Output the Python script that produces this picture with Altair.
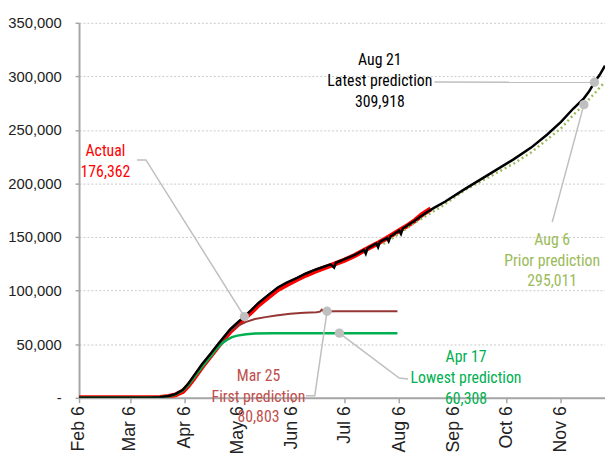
import altair as alt
import pandas as pd

# ---------------- data (values in thousands of deaths) ----------------
actual_dates = ["02-06", "03-06", "03-17", "03-23", "03-28", "04-01", "04-05", "04-08", "04-11", "04-16",
                "04-21", "04-26", "05-02", "05-06", "05-10", "05-14", "05-18", "05-24", "05-29", "06-03",
                "06-09", "06-14", "06-20", "06-28", "07-06", "07-12", "07-17", "07-24", "07-30", "08-06",
                "08-11", "08-15", "08-19", "08-24"]
actual_vals = [0, 0, 0.1, 0.4, 1.2, 2.8, 6, 11, 17.5, 29,
               39.5, 50, 62, 68, 74, 80, 86.5, 94.5, 101, 105.5,
               110.5, 114.5, 118.5, 123.5, 128.5, 133, 137.5, 143.5, 149, 156,
               161, 165.5, 171, 176.362]

latest_dates = ["02-06", "03-06", "03-17", "03-23", "03-28", "04-01", "04-05", "04-08", "04-11", "04-16",
                "04-21", "04-26", "05-02", "05-06", "05-10", "05-14", "05-18", "05-24", "05-29", "06-03",
                "06-09", "06-14", "06-20", "06-28", "06-30", "07-01", "07-06", "07-12", "07-17", "07-18",
                "07-19", "07-24", "07-25", "07-26", "07-30", "07-31", "08-01", "08-06", "08-07", "08-08",
                "08-15", "08-21", "08-26", "09-01", "09-12", "09-26", "10-10", "10-20", "10-29", "11-06",
                "11-13", "11-19", "11-22", "11-25", "11-28", "12-01"]
latest_vals = [0, 0, 0.1, 0.6, 1.7, 3.6, 7.5, 13, 20, 31.5,
               41.5, 52, 64, 70, 75.8, 82, 88.5, 96.5, 103, 107.5,
               112, 116, 120, 124.5, 121.5, 126, 129.5, 133.5, 138, 134.5,
               139.5, 144, 140.5, 145.5, 149, 146, 150.5, 156, 153, 158,
               165.5, 172.5, 177.5, 183, 194.5, 208.5, 222.5, 233.5, 245.5, 257.5,
               270, 279.5, 286, 294.5, 301.5, 309.918]

prior_dates = ["07-28", "08-04", "08-15", "08-30", "09-12", "09-26", "10-10", "10-20", "10-29", "11-06",
               "11-13", "11-19", "11-25", "12-01"]
prior_vals = [143.5, 151, 163.5, 178.5, 193.5, 206, 218.5, 229, 241, 251.5,
              264, 273.6, 284, 295.011]

first_dates = ["02-06", "03-06", "03-17", "03-23", "03-28", "04-01", "04-05", "04-08", "04-11", "04-16",
               "04-21", "04-26", "04-29", "05-02", "05-06", "05-11", "05-16", "05-22", "05-28", "06-05",
               "06-13", "06-20", "06-22", "06-23", "06-24", "07-01", "07-15", "08-05"]
first_vals = [0, 0, 0.1, 0.5, 1.5, 3.3, 7, 12.5, 19.5, 31,
              41, 51, 57, 62.5, 67, 70.8, 73.5, 75.3, 76.8, 78.4,
              79.4, 79.9, 80.4, 82.3, 80.6, 80.75, 80.8, 80.803]

lowest_dates = ["02-06", "03-06", "03-17", "03-23", "03-28", "04-01", "04-05", "04-08", "04-11", "04-16",
                "04-21", "04-24", "04-27", "04-30", "05-03", "05-06", "05-11", "05-16", "05-26", "06-15",
                "08-05"]
lowest_vals = [0, 0, 0.1, 0.5, 1.4, 3.2, 6.8, 11.5, 18, 29,
               39, 45.5, 50.5, 54, 56.6, 58, 59.3, 59.9, 60.15, 60.28,
               60.308]

# annotations: label text, colour, first-line anchor, leader path, dot
ann_labels = ["Actual\n176,362",
              "Aug 21\nLatest prediction\n309,918",
              "Aug 6\nPrior prediction\n295,011",
              "Mar 25\nFirst prediction\n80,803",
              "Apr 17\nLowest prediction\n60,308"]
ann_colors = ["#ff0000", "#000000", "#9bbb59", "#c0504d", "#00b050"]
ann_text_dates = ["02-21", "07-26", "11-01", "05-18", "09-13"]
ann_text_vals = [230.3, 315, 147.4, 20.3, 37.8]
leader_paths = [
    [("03-10", 222), ("03-15", 222), ("05-10", 75.8)],
    [("08-26", 294.7), ("11-25", 294.5)],
    [("11-01", 164), ("11-19", 273.6)],
    [("06-14", 1.8), ("06-19", 1.8), ("06-26", 80.8)],
    [("08-11", 17.5), ("08-06", 18.4), ("07-03", 60.3)],
]

y_ticks = [0, 50000, 100000, 150000, 200000, 250000, 300000, 350000]
x_tick_days = ["02-06", "03-06", "04-06", "05-06", "06-06", "07-06", "08-06", "09-06", "10-06", "11-06"]


def to_date(md):
    return f"2020-{md}T00:00:00"


def series_df(dates, vals):
    return pd.DataFrame({"date": [to_date(d) for d in dates], "value": [v * 1000 for v in vals]})


def dt(md):
    m, d = md.split("-")
    return alt.DateTime(year=2020, month=int(m), date=int(d))


FONT = "Liberation Sans"
NARROW = "Roboto Condensed"
GRAY = "#a6a6a6"
LEAD = "#bfbfbf"

x_enc = alt.X(
    "date:T",
    scale=alt.Scale(domain=[dt("02-06"), dt("12-01")]),
    axis=alt.Axis(
        values=[dt(d) for d in x_tick_days],
        format="%b %-d",
        labelAngle=270,
        labelFontSize=18,
        labelFont=FONT,
        labelColor="#222222",
        labelPadding=3,
        domainColor=GRAY,
        domainWidth=2,
        tickColor=GRAY,
        tickWidth=1.5,
        tickSize=5,
        grid=False,
        title=None,
        labelOverlap=False,
    ),
)
y_enc = alt.Y(
    "value:Q",
    scale=alt.Scale(domain=[0, 350000], nice=False),
    axis=alt.Axis(
        values=y_ticks,
        labelExpr="datum.value == 0 ? '-\u00a0\u00a0' : format(datum.value, ',')",
        labelFontSize=15,
        labelFont=FONT,
        labelColor="#222222",
        labelPadding=14,
        domainColor=GRAY,
        domainWidth=2,
        tickColor=GRAY,
        tickWidth=1.5,
        tickSize=4,
        grid=True,
        gridColor="#c8c8c8",
        gridDash=[2, 2],
        gridWidth=1,
        title=None,
    ),
)


def line_layer(dates, vals, **style):
    return alt.Chart(series_df(dates, vals)).mark_line(clip=True, **style).encode(x=x_enc, y=y_enc)


red = line_layer(actual_dates, actual_vals, color="#ff0000", strokeWidth=5)
olive = line_layer(prior_dates, prior_vals, color="#9bbb59", strokeWidth=2.5, strokeDash=[2, 3])
brown = line_layer(first_dates, first_vals, color="#943634", strokeWidth=2)
green = line_layer(lowest_dates, lowest_vals, color="#00b050", strokeWidth=2.5)
black = line_layer(latest_dates, latest_vals, color="#000000", strokeWidth=2.5)

lead_rows = []
dot_rows = []
for gi, path in enumerate(leader_paths):
    for oi, (d, v) in enumerate(path):
        lead_rows.append({"date": to_date(d), "value": v * 1000, "grp": gi, "ord": oi})
    d, v = path[-1]
    dot_rows.append({"date": to_date(d), "value": v * 1000})
lead_df = pd.DataFrame(lead_rows)
dot_df = pd.DataFrame(dot_rows)

leaders = alt.Chart(lead_df).mark_line(color=LEAD, strokeWidth=1.5).encode(
    x=x_enc, y=y_enc, detail="grp:N", order="ord:Q"
)
dots = alt.Chart(dot_df).mark_circle(size=90, color=LEAD, opacity=1).encode(x=x_enc, y=y_enc)

text_df = pd.DataFrame({
    "date": [to_date(d) for d in ann_text_dates],
    "value": [v * 1000 for v in ann_text_vals],
    "label": ann_labels,
    "col": ann_colors,
})
texts = alt.Chart(text_df).mark_text(
    lineBreak="\n", lineHeight=21, fontSize=16, font=NARROW, fontWeight="normal",
    align="center", baseline="middle"
).encode(x=x_enc, y=y_enc, text="label:N", color=alt.Color("col:N", scale=None))

chart = alt.layer(red, olive, brown, green, black, leaders, dots, texts).properties(
    width=533,
    height=380,
    padding={"left": 72, "top": 12, "right": 0, "bottom": 55},
    autosize=alt.AutoSizeParams(type="none"),
).configure_view(strokeWidth=0)

chart.save("out.html", embed_options={"renderer": "svg", "actions": False})
